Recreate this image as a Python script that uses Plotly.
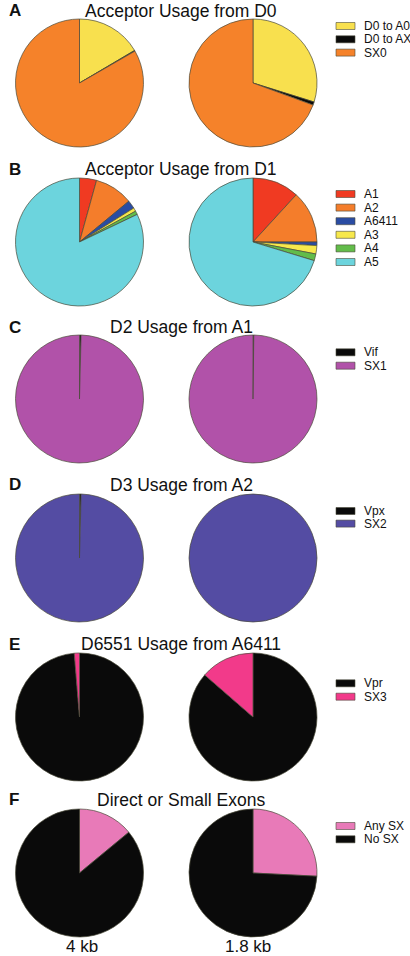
import plotly.graph_objects as go

W, H = 410, 956

# ---- data ----
titles = ["Acceptor Usage from D0", "Acceptor Usage from D1", "D2 Usage from A1",
          "D3 Usage from A2", "D6551 Usage from A6411", "Direct or Small Exons"]
panel_letters = ["A", "B", "C", "D", "E", "F"]
sample_labels = ["4 kb", "1.8 kb"]

labels_A = ["D0 to A0", "D0 to AX", "SX0"]
left_A = [16.5, 0.2, 83.3]
right_A = [29.8, 0.8, 69.4]
colors_A = ["#F8E04E", "#0A0A0A", "#F5822A"]

labels_B = ["A1", "A2", "A6411", "A3", "A4", "A5"]
left_B = [4.3, 9.7, 2.1, 0.9, 0.9, 82.1]
right_B = [11.8, 13.2, 0.9, 2.1, 1.7, 70.3]
colors_B = ["#F03A22", "#F47D2B", "#2A4CA3", "#F7E84C", "#62BC4A", "#6CD4DD"]

labels_C = ["Vif", "SX1"]
left_C = [0.4, 99.6]
right_C = [0.2, 99.8]
colors_C = ["#0A0A0A", "#B152A9"]

labels_D = ["Vpx", "SX2"]
left_D = [0.4, 99.6]
right_D = [0.0, 100.0]
colors_D = ["#0A0A0A", "#544CA3"]

labels_E = ["Vpr", "SX3"]
left_E = [98.7, 1.3]
right_E = [86.4, 13.6]
colors_E = ["#0A0A0A", "#F23A8A"]

labels_F = ["Any SX", "No SX"]
left_F = [14.0, 86.0]
right_F = [25.8, 74.2]
colors_F = ["#E87AB8", "#0A0A0A"]

panels = [
    (labels_A, left_A, right_A, colors_A),
    (labels_B, left_B, right_B, colors_B),
    (labels_C, left_C, right_C, colors_C),
    (labels_D, left_D, right_D, colors_D),
    (labels_E, left_E, right_E, colors_E),
    (labels_F, left_F, right_F, colors_F),
]

# ---- layout (pixels) ----
pie_cy = [83, 242, 399, 558, 717, 873]
pie_cx = [79.5, 253]
R = 64
title_cy = [11, 169, 327, 484.5, 644, 799.5]
leg_y0 = [26, 194, 352.3, 511, 683.3, 826]
leg_dy = [13.3, 13.6, 13.4, 12.6, 13.4, 13.3]

def px(x):
    return x / W

def py(y):
    return 1 - y / H

fig = go.Figure()
shapes = []
annotations = []
FONT = "Liberation Sans, Arial"

for i, (labs, lv, rv, cols) in enumerate(panels):
    cy = pie_cy[i]
    for j, vals in enumerate([lv, rv]):
        cx = pie_cx[j]
        fig.add_trace(go.Pie(
            labels=labs, values=vals, sort=False, direction="clockwise", rotation=0,
            marker=dict(colors=cols, line=dict(color="#4a4a3a", width=0.7)),
            textinfo="none", hoverinfo="label+percent", showlegend=False,
            domain=dict(x=[px(cx - R), px(cx + R)], y=[py(cy + R), py(cy - R)]),
        ))
    # title
    annotations.append(dict(text=titles[i], x=px(181), y=py(title_cy[i]), xref="paper", yref="paper",
                            xanchor="center", yanchor="middle", showarrow=False,
                            font=dict(size=17.5, color="#111", family=FONT)))
    annotations.append(dict(text="<b>" + panel_letters[i] + "</b>", x=px(7), y=py(title_cy[i]),
                            xref="paper", yref="paper", xanchor="left", yanchor="middle", showarrow=False,
                            font=dict(size=17, color="#111", family=FONT)))
    # legend
    for k, lab in enumerate(labs):
        ly = leg_y0[i] + k * leg_dy[i]
        shapes.append(dict(type="rect", xref="paper", yref="paper",
                           x0=px(336), x1=px(355), y0=py(ly + 3.5), y1=py(ly - 3.5),
                           fillcolor=cols[k], line=dict(color="#4a4a3a", width=0.6)))
        annotations.append(dict(text=lab, x=px(362), y=py(ly), xref="paper", yref="paper",
                                xanchor="left", yanchor="middle", showarrow=False,
                                font=dict(size=12, color="#111", family=FONT)))

# sample labels under the bottom pies
for j, lab in enumerate(sample_labels):
    annotations.append(dict(text=lab, x=px([81.5, 248][j]), y=py(946.5), xref="paper", yref="paper",
                            xanchor="center", yanchor="middle", showarrow=False,
                            font=dict(size=17, color="#111", family=FONT)))

fig.update_layout(width=W, height=H, margin=dict(l=0, r=0, t=0, b=0),
                  paper_bgcolor="white", plot_bgcolor="white",
                  shapes=shapes, annotations=annotations, showlegend=False)

fig.write_html("out.html")
